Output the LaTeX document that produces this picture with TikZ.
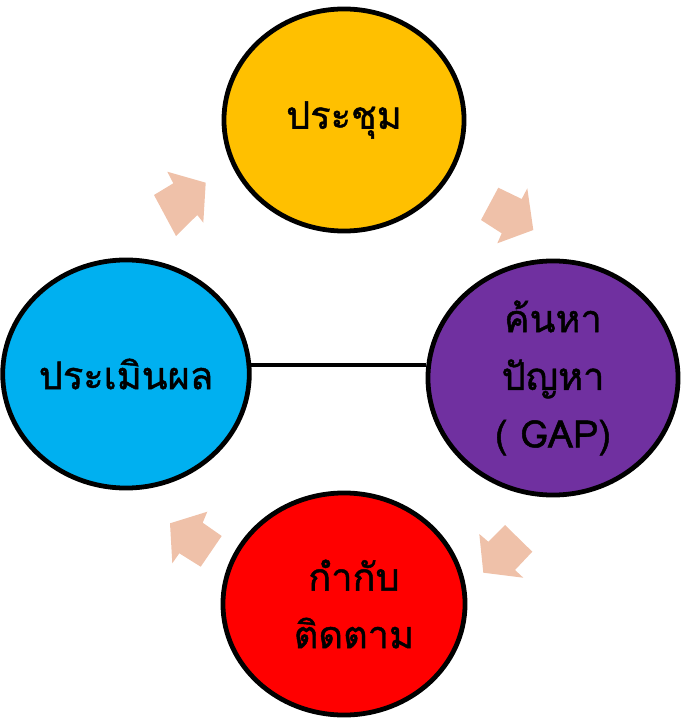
\documentclass[tikz,border=0pt]{standalone}
\usepackage{fontspec}
\usepackage{tikz}
\usetikzlibrary{shapes.geometric}
\newfontfamily\thaifont[Script=Thai,FakeBold=1.2]{Loma}
\definecolor{cyellow}{RGB}{255,192,0}
\definecolor{cblue}{RGB}{0,176,240}
\definecolor{cpurple}{RGB}{112,48,160}
\definecolor{cred}{RGB}{255,0,0}
\definecolor{cpeach}{RGB}{239,193,169}
\tikzset{
    stage/.style={ % coloured circles
        ellipse,
        draw=black,
        line width=3.4pt,
        text centered,
        align=center,
        inner sep=0pt,
        font=\thaifont\fontsize{27}{41}\selectfont
        },
    link/.style={
        draw=black,
        line width=2.8pt
        },
    barr/.style={ % block arrow
        fill=cpeach,
        draw=none
        }
}
\begin{document}
\begin{tikzpicture}[x=0.025cm,y=-0.025cm]
		\useasboundingbox (0,0) rectangle (682,721);
		
		%%%%% node meet
		\node[stage,fill=cyellow,minimum width=6cm,minimum height=5.55cm] (meet) at (344,120) {ประชุม};
		
		%%%%% node eval
		\node[stage,fill=cblue,minimum width=6.15cm,minimum height=5.7cm] (eval) at (126,374) {ประเมินผล};
		
		%%%%% node gap
		\node[stage,fill=cpurple,minimum width=6.25cm,minimum height=5.85cm] (gap) at (553,378) {ค้นหา\\ปัญหา\\( GAP)};
		
		%%%%% node track
		\node[stage,fill=cred,minimum width=6.05cm,minimum height=5.55cm] (track) at (344,604) {\hspace*{0.5cm}กำกับ\\\hspace*{0.5cm}ติดตาม};
		
		%%%%% edge eval-gap
		\draw[link] (eval.4.5) -- (eval.4.5 -| gap.west);
		
		%%%%% arrow eval -> meet
		\fill[barr] (154,195) -- (173.3,183.3) -- (167.3,171.7) -- (205.7,182.7)
			-- (203.3,222.7) -- (197.3,215) -- (176,236) -- cycle;
		
		%%%%% arrow meet -> gap
		\fill[barr] (498.3,187.7) -- (521.7,199) -- (527.3,188.3) -- (533.3,230)
			-- (497.3,243.3) -- (501.7,233.3) -- (481,220) -- cycle;
		
		%%%%% arrow gap -> track
		\fill[barr] (505,525) -- (532.3,551.7) -- (515,570) -- (523.3,577.7)
			-- (483.3,572.7) -- (479.3,534) -- (488.3,541.7) -- cycle;
		
		%%%%% arrow track -> eval
		\fill[barr] (207.3,511.7) -- (202.7,522.7) -- (221.7,536) -- (200.7,566.7)
			-- (179.3,553.3) -- (172.3,563.3) -- (170,523.3) -- cycle;
\end{tikzpicture}
\end{document}
